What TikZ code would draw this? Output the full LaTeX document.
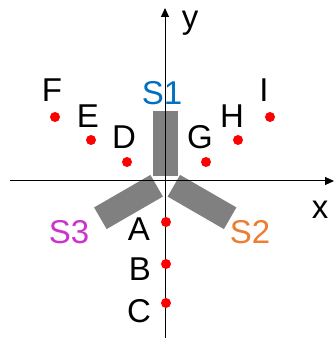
\documentclass[tikz,border=0pt]{standalone}
\usepackage{fontspec}
\setmainfont{Liberation Sans}
\usetikzlibrary{arrows.meta,positioning,calc}
\definecolor{sOne}{HTML}{0070C0}
\definecolor{sTwo}{HTML}{ED7D31}
\definecolor{sThree}{HTML}{CC33CC}
\tikzset{
  axis/.style={-{Triangle[length=9pt, width=8pt]}, line width=1pt},
  bar/.style={
    fill=gray,
    rectangle,
    inner sep=0pt,
    minimum width=65pt,
    minimum height=25pt,
  },
  dot/.style={circle, fill=red, inner sep=0pt, minimum size=10pt},
  lbl/.style={font=\fontsize{33}{40}\selectfont, inner sep=0pt},
}

\begin{document}
\begin{tikzpicture}[x=1pt, y=-1pt]
  \useasboundingbox (0,0) rectangle (334,344);

  % sensor arms
  \node[bar, rotate=90] (s1bar) at (165.5,143.5) {};
  \node[bar, rotate=-30] (s2bar) at (202,202) {};
  \node[bar, rotate=30] (s3bar) at (128.5,202) {};

  \node[lbl, text=sOne] (s1) at (162,93) {S1};
  \node[lbl, text=sTwo] (s2) at (250,232) {S2};
  \node[lbl, text=sThree] (s3) at (69,232) {S3};

  % axes
  \coordinate (xl) at (10,181);
  \coordinate (xr) at (334,181);
  \coordinate (yb) at (165,338);
  \coordinate (yt) at (165,8);
  \draw[axis] (xl) -- (xr);
  \draw[axis] (yb) -- (yt);
  \node[lbl] (xlbl) at (320,210) {x};
  \node[lbl] (ylbl) at (190,23) {y};

  % test points
  \foreach \n/\x/\y/\dx/\dy in {A/166/222/-27/7, B/166/264/-26/5, C/166/303/-27/8,
      D/127/162/-3/-25, E/91/140/-3/-24, F/55/117/-3/-27,
      G/206/162/-6/-25, H/238/140/-6/-24, I/270/117/-6/-27} {
    \node[dot] (\n) at (\x,\y) {};
    \node[lbl] (\n-lbl) at ($(\n)+(\dx,\dy)$) {\n};
  }
\end{tikzpicture}
\end{document}
